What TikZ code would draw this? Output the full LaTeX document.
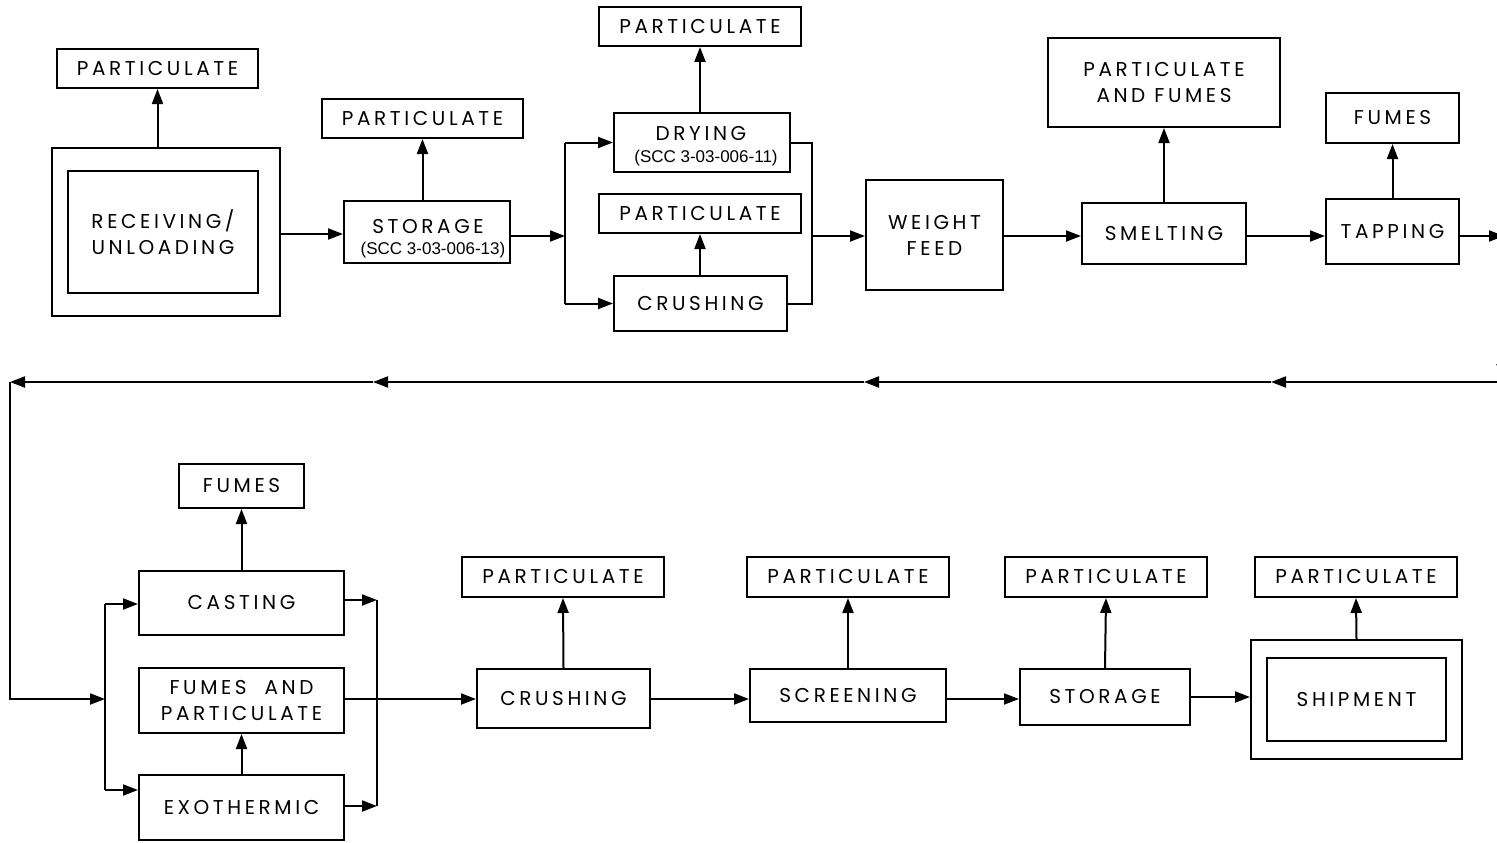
\documentclass[tikz,border=0pt]{standalone}
\usepackage{fontspec}
\setmainfont{Poppins}[LetterSpace=18]
\newfontfamily\sccfont{Liberation Sans}
\usetikzlibrary{arrows.meta}
\tikzset{
  box/.style={draw, line width=2pt, inner sep=0pt, align=center,
    font=\fontsize{20}{26}\selectfont},
  conn/.style={line width=2pt},
  arr/.style={line width=2pt, -{Triangle[length=15pt,width=11pt]}},
  scc/.style={font=\sccfont\fontsize{17}{18}\selectfont, inner sep=0pt},
  lbl/.style={font=\fontsize{20}{26}\selectfont, inner sep=0pt, align=center}
}
\begin{document}
\begin{tikzpicture}[x=1pt,y=-1pt]
\useasboundingbox (0,0) rectangle (1497,843);
\clip (0,0) rectangle (1497,843);
% ---------- top row ----------
\node[box, minimum width=201pt, minimum height=39pt] (p1) at (157.5,68.5) {PARTICULATE};
\node[box, minimum width=228pt, minimum height=168pt] (recO) at (166,232) {};
\node[box, minimum width=190pt, minimum height=122pt] (recI) at (163,232) {RECEIVING/\\UNLOADING};
\node[box, minimum width=201pt, minimum height=39pt] (p2) at (422.5,118.5) {PARTICULATE};
\node[box, minimum width=166pt, minimum height=62pt] (stor) at (427,232) {};
\node[lbl] (storT) at (428,227) {STORAGE};
\node[scc] (storS) at (433,250) {(SCC 3-03-006-13)};
\node[box, minimum width=202pt, minimum height=39pt] (p3) at (700,26.5) {PARTICULATE};
\node[box, minimum width=176pt, minimum height=59pt] (dry) at (702,142.5) {};
\node[lbl] (dryT) at (701,134) {DRYING};
\node[scc] (dryS) at (706,158) {(SCC 3-03-006-11)};
\node[box, minimum width=202pt, minimum height=39pt] (p4) at (700,213.5) {PARTICULATE};
\node[box, minimum width=173pt, minimum height=55pt] (crush) at (700.5,303.5) {CRUSHING};
\node[box, minimum width=137pt, minimum height=110pt] (wf) at (934.5,235) {WEIGHT\\FEED};
\node[box, minimum width=164pt, minimum height=61pt] (smelt) at (1164,233.5) {SMELTING};
\node[box, minimum width=232pt, minimum height=89pt] (pf) at (1164,82.5) {PARTICULATE\\AND FUMES};
\node[box, minimum width=133pt, minimum height=65pt] (tap) at (1392.5,231.5) {TAPPING};
\node[box, minimum width=133pt, minimum height=50pt] (fm1) at (1392.5,118) {FUMES};
% connectors top
\draw[arr] (recO.north -| p1.south) -- (p1.south);
\draw[arr] (recO.east |- 0,234) -- (stor.west |- 0,234);
\draw[arr] (stor.north -| p2.south) -- (p2.south);
\coordinate (j1) at (565,236);
\draw[arr] (stor.east |- j1) -- (j1);
\draw[conn] (j1 |- dry.west) -- (j1 |- crush.west);
\draw[arr] (j1 |- dry.west) -- (dry.west);
\draw[arr] (j1 |- crush.west) -- (crush.west);
\draw[arr] (dry.north -| p3.south) -- (p3.south);
\draw[arr] (crush.north -| p4.south) -- (p4.south);
\coordinate (j2) at (812,236);
\draw[conn] (dry.east) -- (j2 |- dry.east) -- (j2 |- crush.east) -- (crush.east);
\draw[arr] (j2) -- (wf.west |- j2);
\draw[arr] (wf.east |- j2) -- (smelt.west |- j2);
\draw[arr] (smelt.north) -- (pf.south);
\draw[arr] (smelt.east |- j2) -- (tap.west |- j2);
\draw[arr] (tap.north) -- (fm1.south);
\coordinate (rt) at (1504,236);
\draw[arr] (tap.east |- rt) -- (rt);
% return line
\coordinate (rd) at (1502,300);
\coordinate (r0) at (1502,379);
\draw[arr] (rd) -- (r0);
\coordinate (r1) at (1497,382);
\coordinate (r2) at (1271,382);
\coordinate (r3) at (864,382);
\coordinate (r4) at (373,382);
\coordinate (r5) at (10,382);
\coordinate (r6) at (10,699);
\draw[arr] (r1) -- (r2);
\draw[arr] (r2) -- (r3);
\draw[arr] (r3) -- (r4);
\draw[arr] (r4) -- (r5);
\coordinate (jb) at (105,699);
\draw[arr] (r5) -- (r6) -- (jb);
% ---------- bottom row ----------
\node[box, minimum width=125pt, minimum height=44pt] (fm2) at (241.5,486) {FUMES};
\node[box, minimum width=205pt, minimum height=64pt] (cast) at (241.5,603) {CASTING};
\node[box, minimum width=205pt, minimum height=65pt] (fp) at (241.5,700.5) {FUMES\ \ AND\\PARTICULATE};
\node[box, minimum width=205pt, minimum height=65pt] (exo) at (241.5,807.5) {EXOTHERMIC};
\node[box, minimum width=202pt, minimum height=40pt] (p5) at (563,577) {PARTICULATE};
\node[box, minimum width=173pt, minimum height=59pt] (crush2) at (563.5,698.5) {CRUSHING};
\node[box, minimum width=202pt, minimum height=40pt] (p6) at (848,577) {PARTICULATE};
\node[box, minimum width=196pt, minimum height=53pt] (scr) at (848,695.5) {SCREENING};
\node[box, minimum width=202pt, minimum height=40pt] (p7) at (1106,577) {PARTICULATE};
\node[box, minimum width=170pt, minimum height=56pt] (stor2) at (1105,697) {STORAGE};
\node[box, minimum width=202pt, minimum height=40pt] (p8) at (1356,577) {PARTICULATE};
\node[box, minimum width=211pt, minimum height=119pt] (shipO) at (1356.5,699.5) {};
\node[box, minimum width=179pt, minimum height=83pt] (shipI) at (1356.5,699.5) {SHIPMENT};
% connectors bottom
\draw[conn] (jb |- 0,604) -- (jb |- 0,790);
\draw[arr] (jb |- 0,604) -- (cast.west |- 0,604);
\draw[arr] (jb |- 0,790) -- (exo.west |- 0,790);
\draw[arr] (cast.north) -- (fm2.south);
\draw[arr] (exo.north) -- (fp.south);
\coordinate (jc) at (377,699);
\draw[arr] (cast.east |- 0,600) -- (jc |- 0,600);
\draw[arr] (exo.east |- 0,806) -- (jc |- 0,806);
\draw[conn] (jc |- 0,600) -- (jc |- 0,806);
\draw[conn] (fp.east |- jc) -- (jc);
\draw[arr] (jc) -- (crush2.west |- jc);
\draw[arr] (crush2.north) -- (p5.south);
\draw[arr] (crush2.east |- jc) -- (scr.west |- jc);
\draw[arr] (scr.north) -- (p6.south);
\draw[arr] (scr.east |- jc) -- (stor2.west |- jc);
\draw[arr] (stor2.north) -- (p7.south);
\draw[arr] (stor2.east |- 0,697) -- (shipO.west |- 0,697);
\draw[arr] (shipO.north) -- (p8.south);
\end{tikzpicture}
\end{document}
